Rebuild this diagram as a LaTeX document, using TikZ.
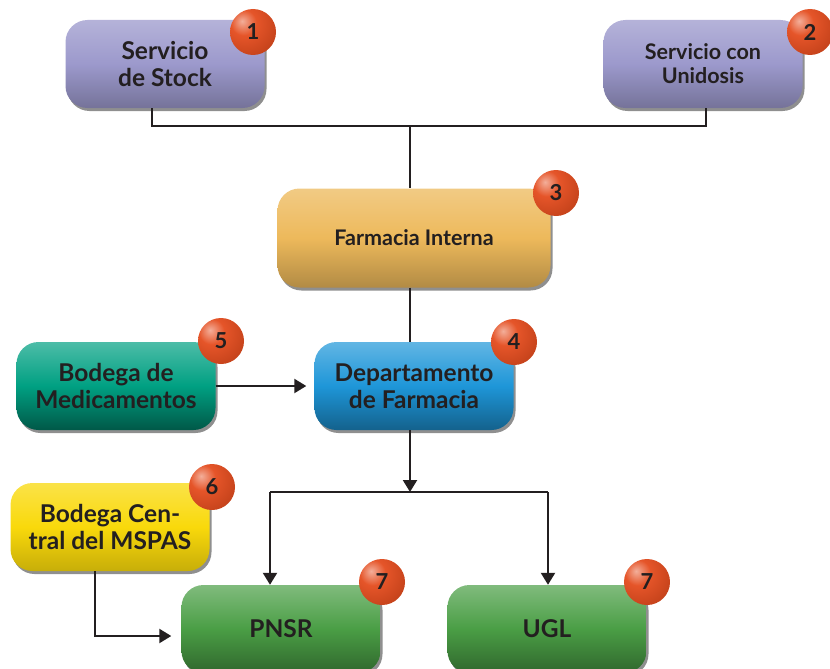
\documentclass[tikz,border=0pt]{standalone}
\usepackage{fontspec}
\setmainfont{Lato}
\usepackage{xcolor}
\definecolor{boxpurple}{RGB}{156, 153, 204}
\definecolor{boxorange}{RGB}{237, 185, 91}
\definecolor{boxblue}{RGB}{30, 150, 216}
\definecolor{boxteal}{RGB}{0, 160, 130}
\definecolor{boxyellow}{RGB}{249, 217, 11}
\definecolor{boxgreen}{RGB}{74, 158, 69}
\definecolor{badgered}{RGB}{228, 76, 30}
\definecolor{textdark}{RGB}{35, 31, 32}
\usetikzlibrary{arrows.meta, positioning, shadows, calc}

% Ball look for the number badges (highlight up left)
\pgfdeclareradialshading{badgeball}{\pgfpoint{-12bp}{12bp}}{%
    color(0bp)=(badgered!45!white); color(14bp)=(badgered!95!white);
    color(38bp)=(badgered!85!black); color(56bp)=(badgered!35!black);
    color(100bp)=(badgered!35!black)}

\begin{document}
\begin{tikzpicture}[
    x=1pt, y=-1pt,
    unit/.style={rounded corners=22pt, align=center, font=\bfseries\fontsize{24.5}{27}\selectfont,
        text=textdark, minimum width=199pt, minimum height=88pt, inner sep=2pt,
        drop shadow={shadow xshift=2pt, shadow yshift=-3pt, opacity=.55, fill=black!80}},
    unitpurple/.style={unit, top color=boxpurple!75!white, bottom color=boxpurple!75!black, middle color=boxpurple},
    unitorange/.style={unit, top color=boxorange!75!white, bottom color=boxorange!75!black, middle color=boxorange},
    unitblue/.style={unit, top color=boxblue!70!white, bottom color=boxblue!65!black, middle color=boxblue},
    unitteal/.style={unit, top color=boxteal!70!white, bottom color=boxteal!55!black, middle color=boxteal},
    unityellow/.style={unit, top color=boxyellow!75!white, bottom color=boxyellow!80!black, middle color=boxyellow},
    unitgreen/.style={unit, top color=boxgreen!70!white, bottom color=boxgreen!65!black, middle color=boxgreen},
    badge/.style={circle, minimum size=46pt, inner sep=0pt, shading=badgeball,
        font=\bfseries\fontsize{22}{22}\selectfont, text=textdark},
    link/.style={line width=2.2pt, draw=textdark},
    arrow/.style={link, -{Triangle[length=12pt, width=14pt]}}
]
\useasboundingbox (0,0) rectangle (830,669);

% Services
\node[unitpurple] (stock) at (165,64) {Servicio\\de Stock};
\node[unitpurple, font=\bfseries\fontsize{21.5}{24}\selectfont] (unidosis) at (703,64) {Servicio con\\Unidosis};

% Farmacia
\node[unitorange, minimum width=273pt, minimum height=99pt, font=\bfseries\fontsize{21.5}{24}\selectfont] (interna) at (414,238) {Farmacia Interna};
\node[unitblue] (depto) at (414,386) {Departamento\\de Farmacia};
\node[unitteal] (bodega) at (116,386) {Bodega de\\Medicamentos};
\node[unityellow] (central) at (110,527) {Bodega Cen-\\tral del MSPAS};

% Programs
\node[unitgreen] (pnsr) at (281,629) {PNSR};
\node[unitgreen] (ugl) at (547,629) {UGL};

% Badges
\node[badge] (n1) at (253,32) {1};
\node[badge] (n2) at (810,32) {2};
\node[badge] (n3) at (556,193) {3};
\node[badge] (n4) at (514,342) {4};
\node[badge] (n5) at (221,341) {5};
\node[badge] (n6) at (212,487) {6};
\node[badge] (n7a) at (382,582) {7};
\node[badge] (n7b) at (647,582) {7};

% Junctions
\coordinate (top) at (410,126);
\coordinate (split) at (410,492);

% Connectors
\draw[link] ([xshift=-13pt]stock.south) |- (top) -| ([xshift=3pt]unidosis.south);
\draw[link] (top) -- (top |- interna.north);
\draw[link] (top |- interna.south) -- (top |- depto.north);
\draw[arrow] (top |- depto.south) -- (split);
\draw[link] (split) -- (270,492) coordinate (splitl);
\draw[link] (split) -- (548,492) coordinate (splitr);
\draw[arrow] (splitl) -- (splitl |- pnsr.north);
\draw[arrow] (splitr) -- (splitr |- ugl.north);
\draw[arrow] (bodega.east) -- ([xshift=-8pt]depto.west);
\draw[arrow] ([xshift=-15pt]central.south) |- ([xshift=-10pt,yshift=-7pt]pnsr.west);

\end{tikzpicture}
\end{document}
